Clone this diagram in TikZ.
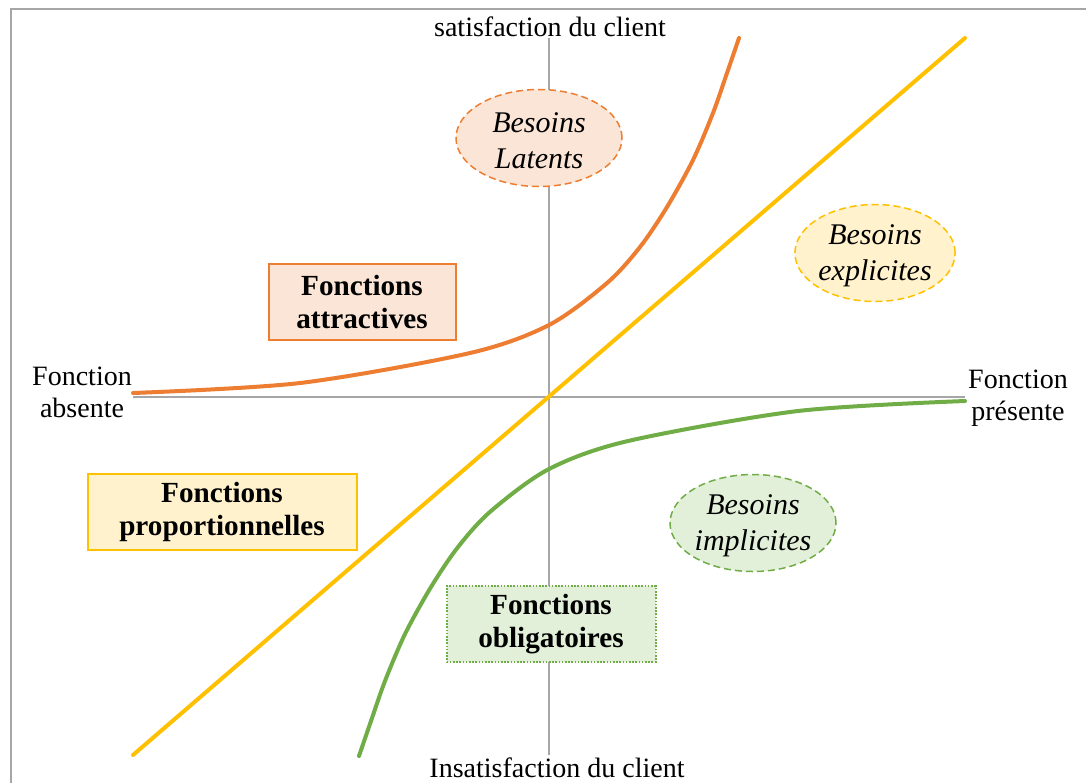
\documentclass[tikz,border=0pt]{standalone}
\usepackage{fontspec}
\setmainfont{Liberation Serif}
\usetikzlibrary{shapes.geometric,positioning}
\definecolor{kanoorange}{HTML}{ED7D31}
\definecolor{kanoyellow}{HTML}{FFC000}
\definecolor{kanogreen}{HTML}{70AD47}
\definecolor{fillorange}{HTML}{FBE5D6}
\definecolor{fillyellow}{HTML}{FFF2CC}
\definecolor{fillgreen}{HTML}{E2F0D9}
\definecolor{axisgray}{HTML}{A6A6A6}

\begin{document}
\begin{tikzpicture}[x=0.5pt,y=-0.5pt,
		axislabel/.style={font=\fontsize{14}{16}\selectfont, align=center, inner sep=0pt},
		fonction/.style={rectangle, draw, line width=1pt, font=\fontsize{14.6}{16.5}\selectfont\bfseries, align=center, minimum height=38pt, inner sep=0pt},
		besoin/.style={ellipse, draw, line width=0.75pt, dash pattern=on 3.5pt off 2pt, font=\fontsize{15}{18}\selectfont\itshape, align=center, minimum width=83pt, minimum height=48.5pt, inner sep=0pt},
		courbe/.style={line width=2pt, line cap=round}]
	\useasboundingbox (0,0) rectangle (1086,783);
	\draw[axisgray, line width=1pt] (11,783) -- (11,9) -- (1086,9);
	
	\coordinate (haut) at (549,38);
	\coordinate (bas) at (549,755);
	\coordinate (gauche) at (133,397);
	\coordinate (droite) at (965,397);
	\draw[axisgray, line width=0.7pt] (haut) -- (bas);
	\draw[axisgray, line width=0.7pt] (gauche) -- (droite);
	
	\node[axislabel, anchor=base] (sat) at (550,36) {satisfaction du client};
	\node[axislabel, anchor=base] (insat) at (557,777) {Insatisfaction du client};
	\node[axislabel] (absente) at (82,392) {Fonction\\absente};
	\node[axislabel] (presente) at (1018,398) {Fonction\\présente};
	
	% courbes
	\coordinate (pbas) at (133,755);
	\coordinate (phaut) at (965,38);
	\draw[courbe, kanoyellow] (pbas) -- (phaut);
	\draw[courbe, kanoorange] plot[smooth] coordinates {(133,393) (300,383) (470,353) (549,325) (607,283) (640,247) (667,207) (693,160) (713,113) (727,73) (739,38)};
	\draw[courbe, kanogreen] plot[smooth] coordinates {(965,401) (798,411) (628,441) (549,469) (491,511) (458,547) (431,587) (405,634) (385,681) (371,721) (359,756)};
	
	\node[fonction, draw=kanoorange, fill=fillorange, minimum width=93.5pt] (attr) at (362,302) {Fonctions\\attractives};
	\node[fonction, draw=kanoyellow, fill=fillyellow, minimum width=134.5pt] (prop) at (222,512) {Fonctions\\proportionnelles};
	\node[fonction, draw=kanogreen, fill=fillgreen, dash pattern=on 0.8pt off 0.8pt, minimum width=104.5pt] (oblig) at (551,624) {Fonctions\\obligatoires};
	
	\node[besoin, draw=kanoorange, fill=fillorange] (latents) at (539,138) {\strut Besoins\\Latents};
	\node[besoin, draw=kanoyellow, fill=fillyellow, minimum width=79pt] (explicites) at (875,253) {\strut Besoins\\explicites};
	\node[besoin, draw=kanogreen, fill=fillgreen] (implicites) at (753,523) {\strut Besoins\\implicites};
\end{tikzpicture}
\end{document}
